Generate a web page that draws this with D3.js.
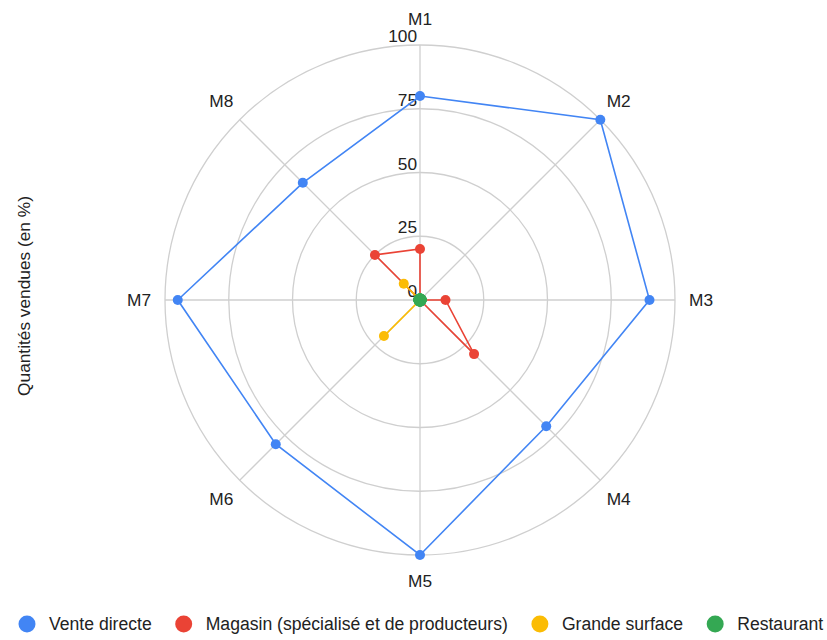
<!DOCTYPE html>
<html><head><meta charset="utf-8">
<script src="https://cdn.jsdelivr.net/npm/d3@7"></script>
<style>body{margin:0;background:#fff}svg{display:block}text{font-family:Arial,"Liberation Sans",Helvetica,sans-serif}</style>
</head><body><svg id="c" width="827" height="640"></svg>
<script>
const categories = ["M1","M2","M3","M4","M5","M6","M7","M8"];
const seriesNames = ["Vente directe","Magasin (spécialisé et de producteurs)","Grande surface","Restaurant"];
const venteDirecte = [80,100,90,70,100,80,95,65];
const magasin = [20,0,10,30,0,0,0,25];
const grandeSurface = [0,0,0,0,0,20,0,9];
const restaurant = [0,0,0,0,0,0,0,0];
const tickValues = [0,25,50,75,100];
const colors = ["#4285F4","#EA4335","#FBBC04","#34A853"];
const axisTitle = "Quantités vendues (en %)";

const series = [venteDirecte, magasin, grandeSurface, restaurant];
const svg = d3.select("#c");
const cx = 420, cy = 300;
const r = d3.scaleLinear().domain([0,100]).range([0,255]);
const ang = d3.scalePoint().domain(categories).range([0, 2*Math.PI*7/8]);
const g = svg.append("g").attr("transform",`translate(${cx},${cy})`);

g.selectAll("circle.grid").data(tickValues.filter(d=>d>0)).join("circle")
  .attr("r", d=>r(d)).attr("fill","none").attr("stroke","#cfcfcf").attr("stroke-width",1.3);
g.selectAll("line.spoke").data(categories).join("line")
  .attr("x1",0).attr("y1",0)
  .attr("x2", d=>r(100)*Math.sin(ang(d))).attr("y2", d=>-r(100)*Math.cos(ang(d)))
  .attr("stroke","#cfcfcf").attr("stroke-width",1.3);
g.selectAll("text.tick").data(tickValues).join("text")
  .attr("x",-3).attr("y", d=>-r(d)-3).attr("text-anchor","end")
  .attr("font-size",17.3).attr("fill","#222").text(d=>d);
g.selectAll("text.cat").data(categories).join("text")
  .attr("x", d=>281*Math.sin(ang(d))).attr("y", d=>-281*Math.cos(ang(d)))
  .attr("text-anchor","middle").attr("dominant-baseline","central")
  .attr("font-size",17.3).attr("fill","#222").text(d=>d);

const line = d3.lineRadial().angle((d,i)=>ang(categories[i])).radius(d=>r(d)).curve(d3.curveLinearClosed);
series.forEach((s,k)=>{
  const sg = g.append("g");
  sg.append("path").attr("d", line(s)).attr("fill","none").attr("stroke",colors[k]).attr("stroke-width",1.6);
  sg.selectAll("circle").data(s).join("circle")
    .attr("cx",(d,i)=>r(d)*Math.sin(ang(categories[i])))
    .attr("cy",(d,i)=>-r(d)*Math.cos(ang(categories[i])))
    .attr("r", k===3?6.5:5).attr("fill",colors[k]);
});

svg.append("text").attr("transform","translate(24,296) rotate(-90)")
  .attr("text-anchor","middle").attr("dominant-baseline","central")
  .attr("font-size",17.3).attr("fill","#222").text(axisTitle);

let lx = 27;
const ly = 624;
seriesNames.forEach((n,k)=>{
  svg.append("circle").attr("cx",lx).attr("cy",ly).attr("r",8.5).attr("fill",colors[k]);
  const t = svg.append("text").attr("x",lx+22).attr("y",ly).attr("dominant-baseline","central")
    .attr("font-size",17.6).attr("fill","#222").text(n);
  const w = t.node().getComputedTextLength();
  lx = lx + 22 + w + 32;
});
</script></body></html>
